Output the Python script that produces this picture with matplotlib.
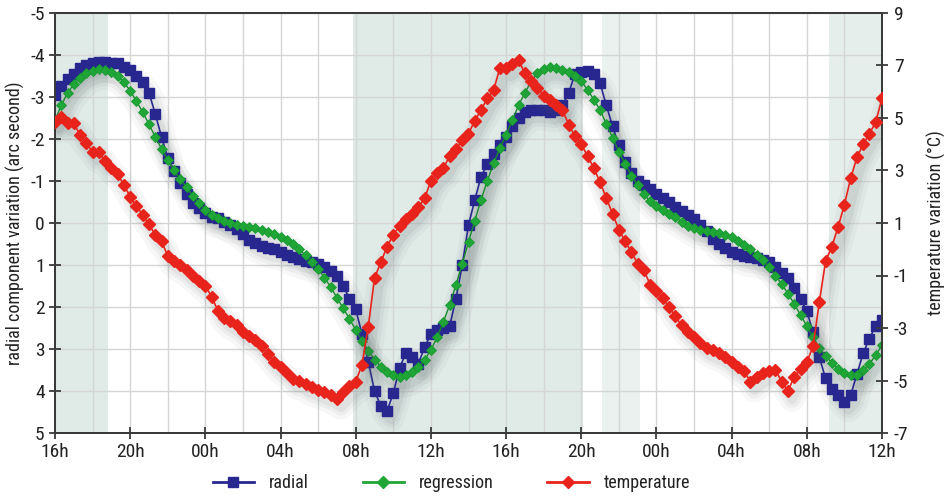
import numpy as np
import matplotlib
matplotlib.use("Agg")
import matplotlib.pyplot as plt
from matplotlib.lines import Line2D
from matplotlib import patheffects as pe

plt.rcParams['font.family'] = ['Roboto Condensed', 'Liberation Sans Narrow', 'Liberation Sans', 'DejaVu Sans']
plt.rcParams['axes.unicode_minus'] = False

# Samples every 20 minutes, starting at 16h on day one (44 hours in total)
step_h = 1.0 / 3.0
n_samples = 133

radial = [
    -3.05, -3.25, -3.42,  -3.55, -3.68, -3.75,  -3.80, -3.83, -3.83,  -3.82, -3.80, -3.72,
    -3.64, -3.50, -3.35,  -3.10, -2.60, -2.05,  -1.55, -1.25, -0.95,  -0.70, -0.48, -0.35,
    -0.24, -0.14, -0.12,  -0.02, 0.05, 0.15,    0.27, 0.40, 0.48,     0.55, 0.60, 0.62,
    0.68, 0.76, 0.80,     0.85, 0.90, 0.93,     0.98, 1.05, 1.15,     1.25, 1.50, 1.80,
    2.05, 2.65, 3.30,     4.00, 4.35, 4.48,     4.05, 3.45, 3.10,     3.20, 3.35, 2.95,
    2.65, 2.55, 2.50,     2.45, 1.80, 1.00,     0.05, -0.55, -1.10,   -1.40, -1.65, -1.85,
    -2.05, -2.30, -2.50,  -2.65, -2.70, -2.70,  -2.68, -2.65, -2.70,  -2.80, -3.10, -3.55,
    -3.60, -3.62, -3.55,  -3.33, -2.80, -2.30,  -1.85, -1.45, -1.20,  -1.00, -0.90, -0.80,
    -0.70, -0.60, -0.50,  -0.38, -0.28, -0.20,  -0.10, 0.05, 0.20,    0.38, 0.50, 0.60,
    0.68, 0.74, 0.79,     0.80, 0.84, 0.88,     0.92, 1.05, 1.20,     1.30, 1.55, 1.80,
    2.10, 2.60, 3.20,     3.70, 3.95, 4.10,     4.25, 4.10, 3.60,     3.10, 2.75, 2.45,
    2.30,
]

regression = [
    -2.45, -2.80, -3.10,  -3.30, -3.46, -3.57,  -3.63, -3.66, -3.65,  -3.60, -3.50, -3.35,
    -3.15, -2.90, -2.64,  -2.35, -2.05, -1.77,  -1.50, -1.26, -1.04,  -0.85, -0.65, -0.47,
    -0.32, -0.20, -0.11,  -0.05, 0.00, 0.04,    0.07, 0.10, 0.13,     0.17, 0.21, 0.26,
    0.33, 0.41, 0.51,     0.63, 0.77, 0.92,     1.10, 1.30, 1.52,     1.78, 2.03, 2.28,
    2.55, 2.80, 3.04,     3.25, 3.42, 3.55,     3.63, 3.66, 3.63,     3.55, 3.43, 3.26,
    3.02, 2.72, 2.35,     1.95, 1.47, 0.98,     0.45, -0.05, -0.55,   -1.00, -1.42, -1.78,
    -2.10, -2.45, -2.80,  -3.10, -3.37, -3.57,  -3.67, -3.71, -3.70,  -3.65, -3.60, -3.50,
    -3.38, -3.17, -2.94,  -2.69, -2.36, -2.03,  -1.70, -1.40, -1.13,  -0.90, -0.68, -0.52,
    -0.40, -0.30, -0.22,  -0.14, -0.03, 0.06,   0.13, 0.16, 0.19,     0.21, 0.24, 0.29,
    0.34, 0.42, 0.52,     0.62, 0.75, 0.89,     1.05, 1.25, 1.46,     1.68, 1.93, 2.19,
    2.45, 2.72, 2.98,     3.17, 3.33, 3.47,     3.56, 3.61, 3.62,     3.50, 3.35, 3.15,
    2.90,
]

temperature = [
    4.85, 5.05, 4.80,     4.80, 4.35, 4.05,     3.70, 3.72, 3.35,     3.10, 2.85, 2.45,
    2.00, 1.65, 1.30,     0.95, 0.55, 0.30,     -0.25, -0.45, -0.60,  -0.80, -1.00, -1.20,
    -1.40, -1.80, -2.35,  -2.60, -2.75, -2.90,  -3.15, -3.30, -3.45,  -3.70, -4.00, -4.30,
    -4.50, -4.70, -4.95,  -5.00, -5.15, -5.25,  -5.35, -5.45, -5.55,  -5.70, -5.45, -5.20,
    -5.05, -4.40, -2.95,  -1.10, -0.50, 0.10,   0.55, 0.90, 1.15,     1.35, 1.60, 1.95,
    2.60, 2.90, 3.10,     3.55, 3.80, 4.15,     4.40, 4.90, 5.30,     5.75, 6.05, 6.90,
    6.90, 7.05, 7.20,     6.70, 6.40, 6.15,     5.85, 5.70, 5.50,     5.30, 4.75, 4.30,
    4.00, 3.55, 3.10,     2.55, 1.95, 1.35,     0.75, 0.30, -0.10,    -0.55, -0.80, -1.35,
    -1.60, -1.85, -2.20,  -2.55, -2.90, -3.15,  -3.35, -3.57, -3.75,  -3.85, -3.95, -4.10,
    -4.30, -4.50, -4.65,  -5.05, -4.85, -4.70,  -4.65, -4.60, -5.05,  -5.40, -4.85, -4.55,
    -4.30, -3.70, -2.00,  -0.45, 0.10, 0.85,    1.70, 2.70, 3.50,     4.00, 4.40, 4.85,
    5.75,
]

x_tick_hours = [0, 4, 8, 12, 16, 20, 24, 28, 32, 36, 40, 44]
x_tick_labels = ['16h', '20h', '00h', '04h', '08h', '12h', '16h', '20h', '00h', '04h', '08h', '12h']
radial_ticks = [-5, -4, -3, -2, -1, 0, 1, 2, 3, 4, 5]
temp_ticks = [-7, -5, -3, -1, 1, 3, 5, 7, 9]

# shaded periods (hours since 16h on day one)
shade_spans = [(0.0, 2.8, '#e0eae7'), (15.85, 28.1, '#e0eae7'),
               (29.1, 31.1, '#eaf1ef'), (41.2, 44.0, '#e6eeeb')]

hours = np.arange(n_samples) * step_h

fig = plt.figure(figsize=(9.52, 4.96), dpi=100)
ax = fig.add_axes([55 / 952, 63 / 496, 827 / 952, 420 / 496])
ax2 = ax.twinx()

for a, b, c in shade_spans:
    ax.axvspan(a, b, color=c, lw=0, zorder=0)

ax.set_xlim(0, 44)
ax.set_ylim(5, -5)
ax2.set_ylim(-7, 9)

ax.set_xticks(x_tick_hours)
ax.set_xticklabels(x_tick_labels)
ax.set_xticks(np.arange(0, 45, 2), minor=True)
ax.set_yticks(radial_ticks)
ax.set_yticklabels([str(t) for t in radial_ticks])
ax2.set_yticks(temp_ticks)
ax2.set_yticklabels([str(t) for t in temp_ticks])

ax.grid(True, which='both', axis='x', color='#d4d6d6', lw=1.0, zorder=0.5)
ax.grid(True, which='major', axis='y', color='#d4d6d6', lw=1.0, zorder=0.5)
ax.set_axisbelow(True)

tick_fs = 14
label_fs = 13
spine_c = '#3a3a3a'
for a in (ax, ax2):
    for s in a.spines.values():
        s.set_color(spine_c)
        s.set_linewidth(1.4)
ax.tick_params(axis='both', which='major', direction='inout', length=9, width=1.3,
               color=spine_c, labelsize=tick_fs, labelcolor='#222222', pad=3)
ax.tick_params(axis='x', which='minor', length=0)
ax2.tick_params(axis='y', direction='inout', length=9, width=1.3, color=spine_c,
                labelsize=tick_fs, labelcolor='#222222', pad=4)

ax.set_ylabel('radial component variation (arc second)', fontsize=label_fs, color='#222222', labelpad=4)
ax2.set_ylabel('temperature variation (\u00b0C)', fontsize=label_fs, color='#222222', labelpad=13)

blue = '#27278f'
green = '#1fa637'
red = '#e8231c'


def soft_shadow(axis, y):
    for w, al in ((18, 0.045), (12, 0.06), (7, 0.08)):
        axis.plot(hours, y, lw=w, color='none', solid_capstyle='round',
                  path_effects=[pe.SimpleLineShadow(offset=(3, -6), shadow_color='#4f5a5a',
                                                    alpha=al)], zorder=1)


soft_shadow(ax, radial)
soft_shadow(ax, regression)
soft_shadow(ax2, temperature)

ax.plot(hours, radial, color=blue, lw=1.2, marker='s', ms=7.0, mfc=blue, mec=blue, zorder=3)
ax.plot(hours, regression, color='#168a2a', lw=1.0, marker='D', ms=5.0, mfc=green,
        mec='#179a30', mew=0.6, zorder=4)
ax2.plot(hours, temperature, color=red, lw=1.2, marker='D', ms=5.8, mfc=red, mec=red, zorder=5)

handles = [
    Line2D([], [], color=blue, lw=2, marker='s', ms=7, mfc=blue, mec=blue),
    Line2D([], [], color=green, lw=2, marker='D', ms=6, mfc=green, mec=green),
    Line2D([], [], color=red, lw=2, marker='D', ms=6, mfc=red, mec=red),
]
fig.legend(handles, ['radial', 'regression', 'temperature'], loc='center',
           bbox_to_anchor=(0.474, 0.026), ncol=3, frameon=False, fontsize=label_fs,
           handlelength=2.3, columnspacing=3.0, handletextpad=0.8, numpoints=1,
           labelcolor='#222222')

fig.savefig('out.png', dpi=100)
